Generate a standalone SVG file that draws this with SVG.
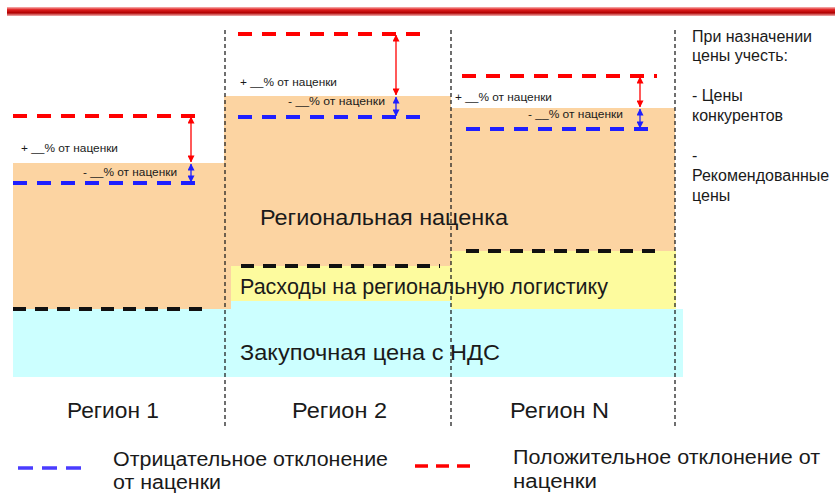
<svg xmlns="http://www.w3.org/2000/svg" width="835" height="495" viewBox="0 0 835 495">
<defs>
<linearGradient id="bar" x1="0" y1="0" x2="0" y2="1">
<stop offset="0" stop-color="#f6b8b8"/>
<stop offset="0.3" stop-color="#e02020"/>
<stop offset="0.65" stop-color="#b00000"/>
<stop offset="1" stop-color="#f4b0b0"/>
</linearGradient>
<marker id="ar" viewBox="0 0 8 8" refX="7.5" refY="4" markerWidth="7" markerHeight="7" markerUnits="userSpaceOnUse" orient="auto-start-reverse">
<path d="M0,0 L8,4 L0,8 Z" fill="#ff0000"/>
</marker>
<marker id="ab" viewBox="0 0 8 8" refX="7.5" refY="4" markerWidth="7" markerHeight="7" markerUnits="userSpaceOnUse" orient="auto-start-reverse">
<path d="M0,0 L8,4 L0,8 Z" fill="#1f1fff"/>
</marker>
</defs>
<style>
text{font-family:"Liberation Sans",Arial,sans-serif;fill:#1a1a1a}
.or{fill:#fcd4a2}
.ye{fill:#fdfb9e}
.cy{fill:#ccffff}
.rd{stroke:#ff0000;stroke-width:4;stroke-dasharray:14 10;fill:none}
.bd{stroke:#1f1fff;stroke-width:4;stroke-dasharray:14 10;fill:none}
.kd{stroke:#111;stroke-width:4;stroke-dasharray:13 9;fill:none}
.vd{stroke:#222;stroke-width:1.3;stroke-dasharray:4 3;fill:none}
.ra{stroke:#ff0000;stroke-width:1.3;fill:none}
.ba{stroke:#1f1fff;stroke-width:1.3;fill:none}
.sm{font-size:11.5px}
.big{font-size:22px}
.rt{font-size:16px}
.lg{font-size:20px}
</style>
<rect x="7" y="7" width="828" height="9" fill="url(#bar)"/>

<g id="fills">
<rect class="or" x="13" y="163" width="218" height="146"/>
<rect class="or" x="224" y="96" width="227" height="170"/>
<rect class="or" x="451" y="108" width="224" height="143"/>
<rect class="ye" x="231" y="266" width="220" height="35"/>
<rect class="ye" x="451" y="251" width="225" height="58"/>
<rect class="cy" x="13" y="309" width="670" height="68"/>
<rect class="cy" x="231" y="301" width="220" height="8"/>
</g>

<g id="dividers">
<line class="vd" x1="225" y1="30" x2="225" y2="426"/>
<line class="vd" x1="451" y1="30" x2="451" y2="426"/>
<line class="vd" x1="675" y1="30" x2="675" y2="426"/>
</g>

<g id="layer-labels">
<text class="big" x="260" y="225" font-size="23" textLength="248" lengthAdjust="spacingAndGlyphs">Региональная наценка</text>
<text class="big" x="240" y="294" font-size="21" textLength="368" lengthAdjust="spacingAndGlyphs">Расходы на региональную логистику</text>
<text class="big" x="240" y="360" textLength="260" lengthAdjust="spacingAndGlyphs">Закупочная цена с НДС</text>
</g>

<g id="region1">
<line class="kd" x1="13" y1="309" x2="205" y2="309"/>
<line class="rd" x1="13" y1="116" x2="203" y2="116"/>
<line class="bd" x1="13" y1="183" x2="203" y2="183"/>
<text class="sm" x="21" y="152" textLength="97" lengthAdjust="spacingAndGlyphs">+ __% от наценки</text>
<text class="sm" x="83" y="176" textLength="94" lengthAdjust="spacingAndGlyphs">- __% от наценки</text>
<text class="big" x="67" y="418" font-size="21" textLength="92" lengthAdjust="spacingAndGlyphs">Регион 1</text>
</g>

<g id="region2">
<line class="kd" x1="241" y1="266" x2="440" y2="266"/>
<line class="rd" x1="238" y1="34" x2="429" y2="34"/>
<line class="bd" x1="238" y1="117" x2="429" y2="117"/>
<text class="sm" x="240" y="86" textLength="97" lengthAdjust="spacingAndGlyphs">+ __% от наценки</text>
<text class="sm" x="288" y="105" textLength="97" lengthAdjust="spacingAndGlyphs">- __% от наценки</text>
<text class="big" x="292" y="418" font-size="21" textLength="95" lengthAdjust="spacingAndGlyphs">Регион 2</text>
</g>

<g id="regionN">
<line class="kd" x1="466" y1="251" x2="662" y2="251"/>
<line class="rd" x1="462" y1="76" x2="657" y2="76"/>
<line class="bd" x1="466" y1="129" x2="657" y2="129"/>
<text class="sm" x="455" y="101" textLength="97" lengthAdjust="spacingAndGlyphs">+ __% от наценки</text>
<text class="sm" x="528" y="118" textLength="95" lengthAdjust="spacingAndGlyphs">- __% от наценки</text>
<text class="big" x="510" y="418" font-size="21" textLength="99" lengthAdjust="spacingAndGlyphs">Регион N</text>
</g>

<g id="connectors">
<line class="ra" x1="191" y1="117" x2="191" y2="162" marker-start="url(#ar)" marker-end="url(#ar)"/>
<line class="ba" x1="191" y1="164" x2="191" y2="182" marker-start="url(#ab)" marker-end="url(#ab)"/>
<line class="ra" x1="396" y1="35" x2="396" y2="95" marker-start="url(#ar)" marker-end="url(#ar)"/>
<line class="ba" x1="396" y1="97" x2="396" y2="116" marker-start="url(#ab)" marker-end="url(#ab)"/>
<line class="ra" x1="640" y1="77" x2="640" y2="107" marker-start="url(#ar)" marker-end="url(#ar)"/>
<line class="ba" x1="640" y1="109" x2="640" y2="128" marker-start="url(#ab)" marker-end="url(#ab)"/>
</g>

<g id="note">
<text class="rt" x="692" y="42">При назначении</text>
<text class="rt" x="692" y="61">цены учесть:</text>
<text class="rt" x="692" y="101">- Цены</text>
<text class="rt" x="692" y="121">конкурентов</text>
<text class="rt" x="692" y="161">-</text>
<text class="rt" x="692" y="181">Рекомендованные</text>
<text class="rt" x="692" y="201">цены</text>
</g>

<g id="legend">
<line x1="18" y1="468" x2="82" y2="468" stroke="#4a3cff" stroke-width="3.5" stroke-dasharray="15 9"/>
<text class="lg" x="113" y="466" textLength="275" lengthAdjust="spacingAndGlyphs">Отрицательное отклонение</text>
<text class="lg" x="113" y="489" textLength="108" lengthAdjust="spacingAndGlyphs">от наценки</text>
<line x1="415" y1="466" x2="470" y2="466" stroke="#ff0000" stroke-width="3.5" stroke-dasharray="13 8"/>
<text class="lg" x="513" y="464" textLength="307" lengthAdjust="spacingAndGlyphs">Положительное отклонение от</text>
<text class="lg" x="513" y="488" textLength="84" lengthAdjust="spacingAndGlyphs">наценки</text>
</g>
</svg>
